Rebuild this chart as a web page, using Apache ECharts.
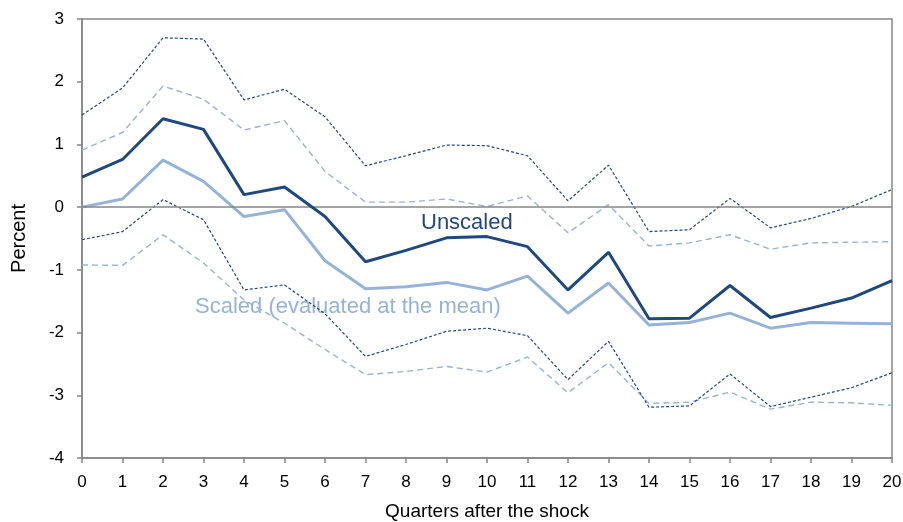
<!DOCTYPE html>
<html>
<head>
<meta charset="utf-8">
<script src="https://cdn.jsdelivr.net/npm/echarts@6/dist/echarts.min.js"></script>
<style>
  html, body { margin: 0; padding: 0; background: #fff; }
  #chart { width: 903px; height: 522px; }
</style>
</head>
<body>
<div id="chart"></div>
<script>
// Quarters after the shock
const quarters = [0,1,2,3,4,5,6,7,8,9,10,11,12,13,14,15,16,17,18,19,20];

// Unscaled response and its confidence band
const unscaled      = [0.48,0.76,1.41,1.24,0.20,0.32,-0.15,-0.87,-0.69,-0.49,-0.47,-0.63,-1.32,-0.72,-1.78,-1.77,-1.25,-1.76,-1.61,-1.45,-1.17];
const unscaledUpper = [1.47,1.90,2.70,2.68,1.71,1.88,1.44,0.66,0.82,0.99,0.98,0.82,0.10,0.67,-0.39,-0.36,0.14,-0.33,-0.18,0.01,0.28];
const unscaledLower = [-0.52,-0.39,0.12,-0.20,-1.32,-1.24,-1.70,-2.38,-2.19,-1.98,-1.93,-2.05,-2.75,-2.14,-3.19,-3.17,-2.66,-3.18,-3.03,-2.88,-2.64];

// Scaled response (evaluated at the mean) and its confidence band
const scaled        = [0.00,0.13,0.75,0.41,-0.15,-0.04,-0.855,-1.30,-1.27,-1.20,-1.32,-1.10,-1.69,-1.21,-1.88,-1.84,-1.69,-1.93,-1.84,-1.85,-1.86];
const scaledUpper   = [0.91,1.19,1.93,1.72,1.23,1.38,0.57,0.08,0.08,0.13,0.01,0.18,-0.41,0.04,-0.62,-0.57,-0.44,-0.67,-0.57,-0.56,-0.55];
const scaledLower   = [-0.92,-0.93,-0.44,-0.89,-1.48,-1.85,-2.27,-2.67,-2.62,-2.54,-2.63,-2.39,-2.96,-2.48,-3.13,-3.11,-2.95,-3.22,-3.11,-3.12,-3.16];

const yTicks = [-4,-3,-2,-1,0,1,2,3];

const DARK = '#1F497D';
const LIGHT = '#95B3D7';
const AXIS = '#868686';
const FONT = '"Liberation Sans", Arial, sans-serif';

const pairs = arr => quarters.map((q, i) => [q, arr[i]]);

function lineSeries(name, values, color, width, type, z) {
  return {
    name, type: 'line', data: pairs(values),
    symbol: 'none', silent: true, z,
    lineStyle: { color, width, type },
    animation: false
  };
}

const chart = echarts.init(document.getElementById('chart'));
chart.setOption({
  animation: false,
  grid: {
    left: 82, right: 11, top: 19, bottom: 64,
    containLabel: false, outerBoundsMode: 'none',
    show: true, borderColor: AXIS, borderWidth: 1.5, backgroundColor: 'transparent'
  },
  xAxis: {
    type: 'value', min: quarters[0], max: quarters[quarters.length - 1], interval: 1,
    name: 'Quarters after the shock', nameLocation: 'middle', nameGap: 44,
    nameTextStyle: { fontFamily: FONT, fontSize: 19, color: '#000' },
    axisLine: { show: true, onZero: false, lineStyle: { color: AXIS, width: 1.5 } },
    axisTick: { show: true, length: 5, lineStyle: { color: AXIS, width: 1.5 } },
    axisLabel: { fontFamily: FONT, fontSize: 17, color: '#000', margin: 16 },
    splitLine: { show: false }
  },
  yAxis: {
    type: 'value', min: yTicks[0], max: yTicks[yTicks.length - 1], interval: 1,
    name: 'Percent', nameLocation: 'middle', nameGap: 53,
    nameTextStyle: { fontFamily: FONT, fontSize: 20, color: '#000' },
    axisLine: { show: true, onZero: false, lineStyle: { color: AXIS, width: 1.5 } },
    axisTick: { show: true, length: 5, lineStyle: { color: AXIS, width: 1.5 } },
    axisLabel: { fontFamily: FONT, fontSize: 17, color: '#000', margin: 18 },
    splitLine: { show: false }
  },
  graphic: [
    {
      type: 'text', left: 421, top: 212, silent: true,
      style: { text: 'Unscaled', fontFamily: FONT, fontSize: 22, fill: DARK }
    },
    {
      type: 'text', left: 195, top: 296, silent: true,
      style: { text: 'Scaled (evaluated at the mean)', fontFamily: FONT, fontSize: 22, fill: LIGHT }
    }
  ],
  series: [
    Object.assign(lineSeries('Scaled upper', scaledUpper, LIGHT, 1.4, [6, 4], 2), {
      markLine: {
        silent: true, symbol: 'none', label: { show: false },
        lineStyle: { color: AXIS, width: 1.5, type: 'solid' },
        data: [{ yAxis: 0 }]
      }
    }),
    lineSeries('Scaled lower', scaledLower, LIGHT, 1.4, [6, 4], 2),
    lineSeries('Unscaled upper', unscaledUpper, DARK, 1.2, [3, 2], 3),
    lineSeries('Unscaled lower', unscaledLower, DARK, 1.2, [3, 2], 3),
    lineSeries('Scaled', scaled, LIGHT, 3, 'solid', 4),
    lineSeries('Unscaled', unscaled, DARK, 3, 'solid', 5)
  ]
});
</script>
</body>
</html>
